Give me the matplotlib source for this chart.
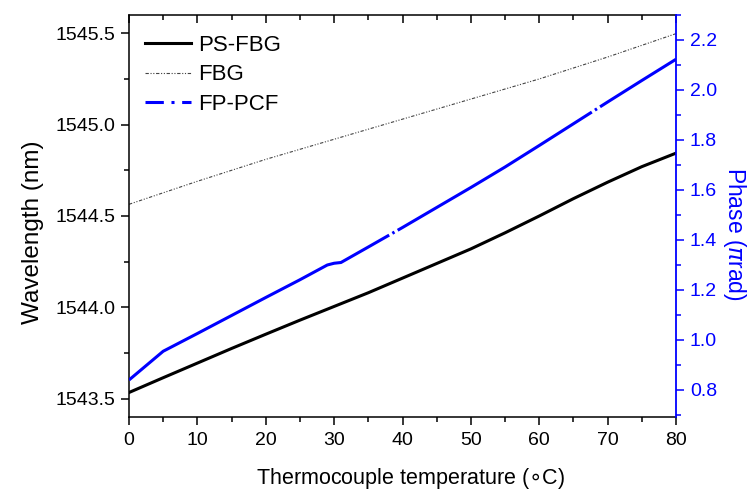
import matplotlib
matplotlib.use("Agg")
import matplotlib.pyplot as plt
from matplotlib.lines import Line2D
from matplotlib.ticker import MultipleLocator, FormatStrFormatter

plt.rcParams['font.family'] = ['Liberation Sans', 'DejaVu Sans']
plt.rcParams['mathtext.fontset'] = 'dejavusans'

# Data
temp_ps = [0, 5, 10, 15, 20, 25, 30, 35, 40, 45, 50, 55, 60, 65, 70, 75, 80]
ps_fbg = [1543.534, 1543.615, 1543.695, 1543.775, 1543.853, 1543.93, 1544.005,
          1544.08, 1544.16, 1544.24, 1544.32, 1544.408, 1544.50, 1544.595,
          1544.685, 1544.77, 1544.844]
temp_fbg = [0, 10, 20, 30, 40, 50, 60, 70, 80]
fbg = [1544.564, 1544.69, 1544.81, 1544.92, 1545.03, 1545.14, 1545.25, 1545.37, 1545.498]
temp_pcf = [0, 5, 10, 15, 20, 25, 29, 30, 31, 35, 40, 45, 50, 55, 60, 65, 70, 75, 80]
fp_pcf = [0.84, 0.955, 1.026, 1.098, 1.17, 1.241, 1.30, 1.307, 1.31, 1.372, 1.45,
          1.53, 1.61, 1.692, 1.778, 1.865, 1.952, 2.038, 2.123]

W, H = 753, 491
fig = plt.figure(figsize=(W / 100, H / 100), dpi=100)
ax = fig.add_axes([129 / W, (H - 417) / H, (676 - 129) / W, (417 - 15) / H])
ax2 = ax.twinx()

blue = '#0000ff'
fbg_style = (0, (3, 1.5, 1, 1.5, 1, 1.5))
ax.plot(temp_ps, ps_fbg, color='black', lw=2.2, solid_joinstyle='round')
ax.plot(temp_fbg, fbg, color='#444444', lw=0.8, linestyle=fbg_style)
ax2.plot(temp_pcf, fp_pcf, color=blue, lw=2.2, solid_joinstyle='round',
         linestyle=(0, (98, 1.2, 0.8, 1.2, 74.4, 1.2, 0.8, 1.2, 300, 1)))

ax.set_xlim(0, 80)
ax.set_ylim(1543.40, 1545.60)
ax2.set_ylim(0.692, 2.30)

ax.xaxis.set_major_locator(MultipleLocator(10))
ax.xaxis.set_minor_locator(MultipleLocator(5))
ax.yaxis.set_major_locator(MultipleLocator(0.5))
ax.yaxis.set_minor_locator(MultipleLocator(0.25))
ax2.yaxis.set_major_locator(MultipleLocator(0.2))
ax2.yaxis.set_minor_locator(MultipleLocator(0.1))
ax.yaxis.set_major_formatter(FormatStrFormatter('%.1f'))
ax2.yaxis.set_major_formatter(FormatStrFormatter('%.1f'))

fs_tick = 14
ax.tick_params(axis='x', which='major', direction='out', length=6, width=1.1,
               labelsize=fs_tick, pad=5, top=True)
ax.tick_params(axis='x', which='minor', direction='out', length=3.5, width=1.1, top=True)
ax.tick_params(axis='x', which='both', labeltop=False)
ax.tick_params(axis='y', which='major', direction='out', length=6, width=1.1,
               labelsize=fs_tick, pad=4, right=False)
ax.tick_params(axis='y', which='minor', direction='out', length=3.5, width=1.1, right=False)
ax2.tick_params(axis='y', which='major', direction='out', length=6, width=1.1,
                labelsize=fs_tick, colors=blue, pad=4)
ax2.tick_params(axis='y', which='minor', direction='out', length=3.5, width=1.1, colors=blue)

# top ticks inward
for t in ax.xaxis.get_major_ticks() + ax.xaxis.get_minor_ticks():
    t.tick2line.set_marker(3)

for sp in ['left', 'bottom', 'top']:
    ax.spines[sp].set_linewidth(1.1)
ax2.spines['right'].set_color(blue)
ax2.spines['right'].set_linewidth(1.3)
ax.spines['right'].set_visible(False)
for sp in ['left', 'bottom', 'top']:
    ax2.spines[sp].set_visible(False)

ax.set_xlabel(r'Thermocouple temperature ($\circ$C)', fontsize=15.5, labelpad=12)
ax.xaxis.label.set_x(0.515)
ax.set_ylabel('Wavelength (nm)', fontsize=17.5, labelpad=8)
ax.yaxis.label.set_y(0.46)
ax2.set_ylabel(r'Phase ($\pi$rad)', fontsize=16.5, color=blue, rotation=270, labelpad=22)
ax2.yaxis.label.set_y(0.455)

handles = [
    Line2D([], [], color='black', lw=2.2),
    Line2D([], [], color='#444444', lw=0.8, linestyle=fbg_style),
    Line2D([], [], color=blue, lw=2.2, linestyle=(0, (6, 2.5, 1, 2.5))),
]
labels = ['PS-FBG', 'FBG', 'FP-PCF']
leg = ax2.legend(handles, labels, loc='upper left', frameon=False, fontsize=16,
                 handlelength=2.1, handletextpad=0.3, labelspacing=0.38,
                 borderaxespad=0.5, bbox_to_anchor=(-0.008, 1.0))

fig.savefig('out.png', dpi=100)
